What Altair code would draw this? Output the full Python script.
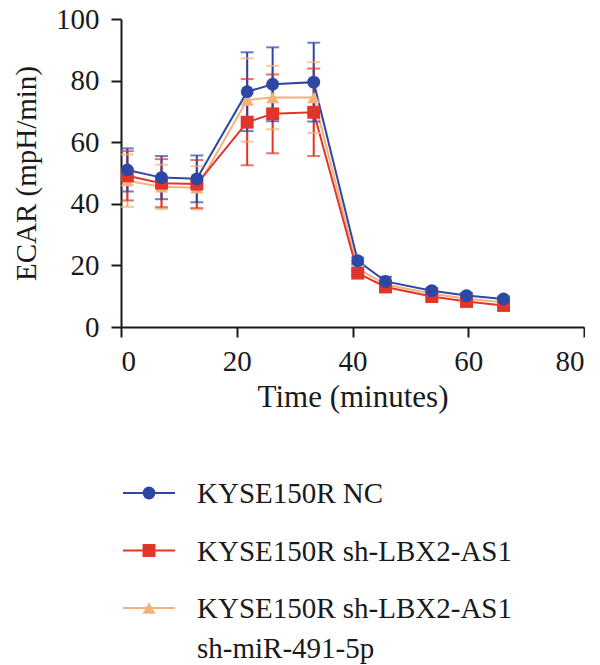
import altair as alt
import pandas as pd

# Measurement times (minutes)
time_min = [1.1, 7.0, 13.1, 21.8, 26.2, 33.3, 40.9, 45.7, 53.7, 59.7, 66.1]

# ECAR means and error half-widths for each group
nc_mean = [51.0, 48.5, 48.1, 76.4, 78.8, 79.5, 21.5, 14.8, 11.8, 10.2, 9.1]
nc_err = [7.0, 7.0, 7.6, 12.8, 12.0, 12.8, 1.0, 1.5, 0.8, 0.8, 0.8]
sh_mean = [49.1, 46.7, 46.4, 66.5, 69.2, 69.7, 17.5, 13.0, 9.9, 8.3, 7.0]
sh_err = [8.0, 7.8, 7.8, 14.0, 12.8, 14.2, 1.0, 1.0, 0.8, 0.7, 0.7]
mir_mean = [47.5, 45.5, 45.2, 73.7, 74.5, 74.5, 19.0, 13.8, 10.8, 9.2, 8.0]
mir_err = [8.5, 7.2, 7.0, 13.5, 10.3, 11.5, 1.0, 1.2, 0.8, 0.7, 0.7]

groups = [
    "KYSE150R NC",
    "KYSE150R sh-LBX2-AS1",
    "KYSE150R sh-LBX2-AS1\nsh-miR-491-5p",
]
colors = ["#2D47A6", "#E3342A", "#F2B27B"]
shapes = ["circle", "square", "triangle-up"]
sizes = [165, 170, 165]

# drawing order: orange first, blue last (on top)
series = [
    (groups[2], mir_mean, mir_err, 0),
    (groups[1], sh_mean, sh_err, 1),
    (groups[0], nc_mean, nc_err, 2),
]
rows = []
for name, means, errs, rank in series:
    for t, m, e in zip(time_min, means, errs):
        rows.append({"group": name, "time": t, "ecar": m,
                     "lo": m - e, "hi": m + e, "rank": rank})
df = pd.DataFrame(rows)

FONT = "Liberation Serif"
INK = "#1a1a1a"
color_scale = alt.Scale(domain=groups, range=colors)
shape_scale = alt.Scale(domain=groups, range=shapes)
size_scale = alt.Scale(domain=groups, range=sizes)

x_enc = alt.X("time:Q", scale=alt.Scale(domain=[0, 80], nice=False),
              axis=alt.Axis(values=[0, 20, 40, 60, 80], title="Time (minutes)",
                            labelPadding=10, titlePadding=6, titleFontSize=31))
y_enc = alt.Y("ecar:Q", scale=alt.Scale(domain=[0, 100], nice=False),
              axis=alt.Axis(values=[0, 20, 40, 60, 80, 100], title="ECAR (mpH/min)",
                            labelPadding=12, titlePadding=14, titleFontSize=29))
col = alt.Color("group:N", scale=color_scale, legend=None)

base = alt.Chart(df)

bars = base.mark_rule(strokeWidth=2).encode(
    x="time:Q", y="lo:Q", y2="hi:Q", color=col, order="rank:Q")
caps_hi = base.mark_tick(orient="horizontal", size=13, thickness=2).encode(
    x="time:Q", y="hi:Q", color=col, order="rank:Q")
caps_lo = base.mark_tick(orient="horizontal", size=13, thickness=2).encode(
    x="time:Q", y="lo:Q", color=col, order="rank:Q")
lines = base.mark_line(strokeWidth=2).encode(
    x=x_enc, y=y_enc, color=col, detail="group:N", order="time:Q")
points = base.mark_point(filled=True, opacity=1).encode(
    x="time:Q", y="ecar:Q", color=col,
    shape=alt.Shape("group:N", scale=shape_scale, legend=None),
    size=alt.Size("group:N", scale=size_scale, legend=None),
    order="rank:Q")

main = alt.layer(lines, bars, caps_hi, caps_lo, points).properties(
    width=463, height=308)

# legend drawn as its own small panel
leg_df = pd.DataFrame({"group": groups})
leg_y = alt.Y("group:N", sort=groups, axis=None,
              scale=alt.Scale(type="point", domain=groups, range=[14, 129],
                              padding=0))
leg_col = alt.Color("group:N", scale=color_scale, legend=None)
leg_base = alt.Chart(leg_df)
leg_line = leg_base.mark_rule(strokeWidth=2).encode(
    x=alt.value(2), x2=alt.value(54), y=leg_y, color=leg_col)
leg_pt = leg_base.mark_point(filled=True, opacity=1).encode(
    x=alt.value(28), y=leg_y, color=leg_col,
    shape=alt.Shape("group:N", scale=shape_scale, legend=None),
    size=alt.Size("group:N", scale=size_scale, legend=None))
leg_txt = leg_base.mark_text(
    align="left", baseline="alphabetic", dy=10, lineBreak="\n",
    font=FONT, fontSize=29, color=INK, lineHeight=40).encode(
    x=alt.value(76), y=leg_y, text="group:N")
legend = alt.layer(leg_line, leg_pt, leg_txt).properties(width=463, height=150)

chart = alt.vconcat(main, legend, spacing=67).properties(
    padding={"left": 12, "top": 5, "right": 0, "bottom": 0},
    background="white",
).configure_view(stroke=None).configure_axis(
    grid=False,
    domainColor=INK, domainWidth=2,
    tickColor=INK, tickWidth=2, tickSize=10,
    labelFont=FONT, labelFontSize=29, labelColor=INK,
    titleFont=FONT, titleFontWeight="normal",
    titleColor=INK,
)

chart.save("out.html", embed_options={"renderer": "svg", "actions": False})
